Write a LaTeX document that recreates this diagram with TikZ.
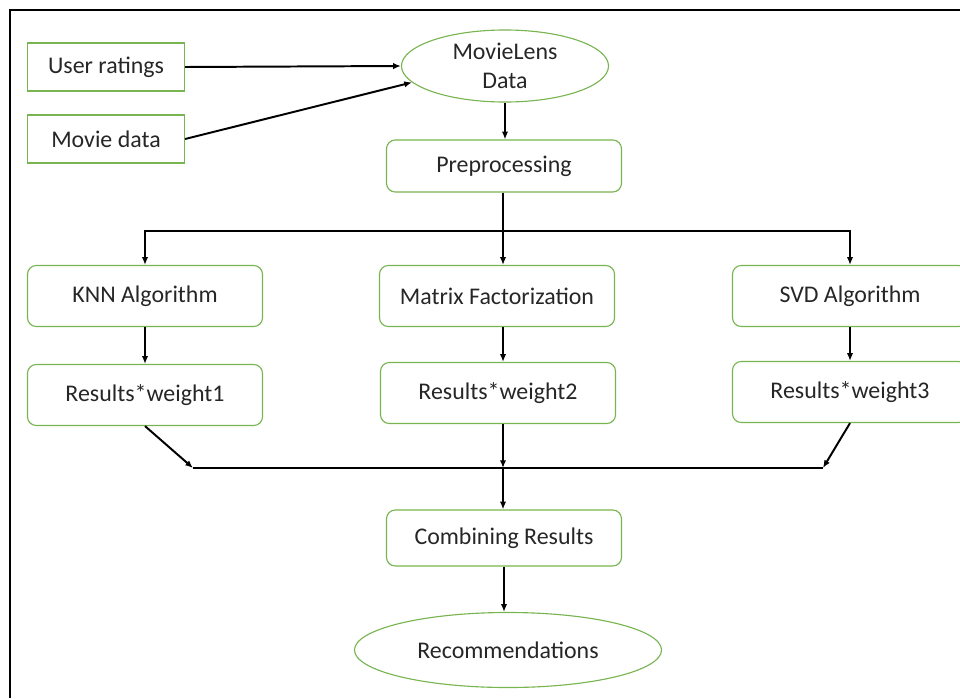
\documentclass[tikz,border=0pt]{standalone}
\usepackage{fontspec}
\setmainfont{Carlito}
\usepackage{tikz}
\usepackage{xcolor}
\usetikzlibrary{shapes.geometric,arrows.meta,positioning}
\definecolor{boxgreen}{RGB}{120,180,80}
\definecolor{txt}{RGB}{38,38,38}

\begin{document}
\begin{tikzpicture}[x=0.025cm,y=-0.025cm]
\tikzstyle{every node}+=[inner sep=0pt,text=txt,font=\fontsize{17}{21}\selectfont]
\tikzstyle{box}=[draw=boxgreen,line width=0.8pt,minimum width=3.925cm,minimum height=1.2cm]
\tikzstyle{rbox}=[draw=boxgreen,line width=0.8pt,rounded corners=0.22cm,minimum width=5.875cm,minimum height=1.525cm]
\tikzstyle{oval}=[draw=boxgreen,line width=0.8pt,ellipse,align=center]
\tikzstyle{arr}=[black,line width=1.4pt,-{Latex[length=5.5pt,width=4.5pt]}]
\useasboundingbox (0,0) rectangle (960,698);
\draw [black,line width=1.4pt] (10,698) -- (10,10) -- (960,10);
\node [box] (ur) at (106,67) {User ratings};
\node [box] (md) at (106,139) {Movie data};
\node [oval,minimum width=5.175cm,minimum height=1.8cm] (ml) at (505,66) {MovieLens\\Data};
\node [rbox,minimum height=1.3cm] (pre) at (504,166) {Preprocessing};
\node [rbox] (knn) at (145,296) {KNN Algorithm};
\node [rbox] (mf) at (497,296) {Matrix Factorization};
\node [rbox] (svd) at (850,296) {SVD Algorithm};
\node [rbox] (res1) at (145,395) {Results*weight1};
\node [rbox] (res2) at (498,393) {Results*weight2};
\node [rbox] (res3) at (850,392) {Results*weight3};
\node [rbox,minimum height=1.4cm] (comb) at (504,538) {Combining Results};
\node [oval,minimum width=7.675cm,minimum height=1.875cm] (rec) at (508,650) {Recommendations};
\coordinate (split) at (503,231);
\coordinate (merge) at (503,468);
\coordinate (mergeL) at (193,468);
\coordinate (mergeR) at (823,468);
\draw [arr] (ur.east) -- (ml.west);
\draw [arr] (md.east) -- (ml.190);
\draw [arr] (ml.south) -- (ml.south |- pre.north);
\draw [black,line width=1.4pt] (pre.south -| split) -- (split);
\draw [arr] (split) -| (knn.north);
\draw [arr] (split) -| (svd.north);
\draw [arr] (split) -- (split |- mf.north);
\draw [arr] (knn.south) -- (res1.north);
\draw [arr] (mf.south -| split) -- (split |- res2.north);
\draw [arr] (svd.south) -- (res3.north);
\draw [black,line width=1.4pt] (mergeL) -- (mergeR);
\draw [arr] (res1.south) -- (mergeL);
\draw [arr] (res3.south) -- (mergeR);
\draw [arr] (res2.south -| merge) -- (merge);
\draw [arr] (merge) -- (comb.north -| merge);
\draw [arr] (comb.south) -- (comb.south |- rec.north);
\end{tikzpicture}
\end{document}
